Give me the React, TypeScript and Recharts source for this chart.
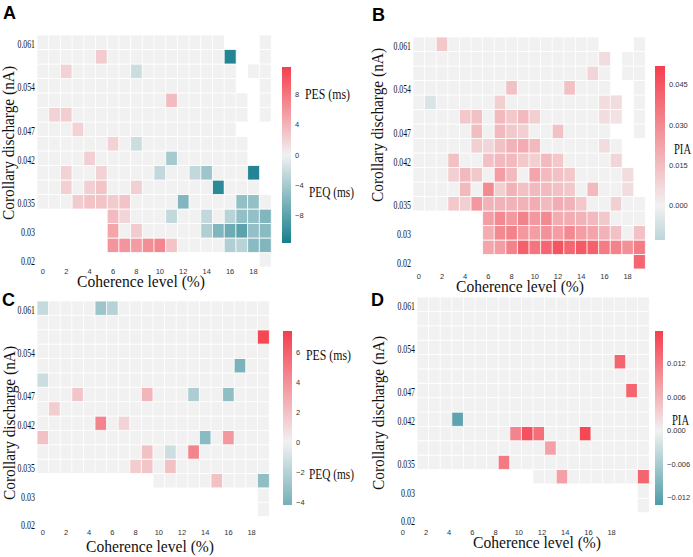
import React from "react";
import { BarChart, Bar, XAxis, YAxis, Cell } from "recharts";

type Grid = (number | null)[][];
const _ = null;

// coherence level columns (%), one cell per column
const COHERENCE = [0, 1, 2, 3, 4, 5, 6, 7, 8, 9, 10, 11, 12, 13, 14, 15, 16, 17, 18, 19];

// corollary discharge labels and the row (from top) they sit on
const CD_LABELS = ["0.061", "0.054", "0.047", "0.042", "0.035", "0.03", "0.02"];
const CD_LABEL_ROWS = [0, 3, 6, 8, 11, 13, 15];

// A: PES / PEQ (ms), rows top -> bottom, null = not simulated
const PES_A: Grid = [
  [0, 0, 0, 0, 0, 0, 0, 0, 0, 0, 0, 0, 0, 0, 0, 0, _, _, _, 0],
  [0, 0, 0, 0, 0, 2.5, 0, 0, 0, 0, 0, 0, 0, 0, 0, 0, -11, _, _, 0],
  [0, 0, 2, 0, 0, 0, 0, 0, -2, 0, 0, 0, 0, 0, 0, 0, 0, _, 0, 0],
  [0, 0, 0, 0, 0, 0, 0, 0, 0, 0, 0, 0, 0, 0, 0, 0, 0, _, _, 0],
  [0, 0, 0, 0, 0, 0, 0, 0, 0, 0, 0, 3.5, 0, 0, 0, 0, 0, 0, _, 0],
  [0, 2, 2.3, 0, 0, 0, 0, 0, 0, 0, 0, 0, 0, 0, 0, 0, 0, 0, _, 0],
  [0, 0, 0, 2, 0, 0, 0, 0, 0, 0, 0, 0, 0, 0, 0, 0, 0, _, _, _],
  [0, 0, 0, 0, 0, 0, 2, 0, -2, 0, 0, 0, 0, 0, 0, 0, 0, 0, _, _],
  [0, 0, 0, 0, 2.2, 0, 0, 0, 0, 0, 0, -4, 0, 0, 0, 0, 0, 0, _, _],
  [0, 0, 2, 0, 0, 2, 0, 0, 0, 0, -2.5, 0, 0, -2.5, -4.5, 0, 0, 0, -11, _],
  [0, 0, 2.2, 0, 2.2, 3, 0, 0, 2.2, 0, 0, 0, 0, 0, 0, -10.5, 0, 0, 0, _],
  [0, 0, 0, 2.5, 3, 3, 2.5, 3, 0, 0, 0, 0, -6, 0, 0, 0, 0, -5, -5, 0],
  [_, _, _, _, _, _, 3.5, 1.8, 0, 0, 0, -2.5, 0, 0, -2.5, 0, -3, -5, -5, -6],
  [_, _, _, _, _, _, 5, 0, 2.5, 0, 0, 0, 0, 0, -3.5, -6, -7, -8, -5, -5.5],
  [_, _, _, _, _, _, 6, 6, 5.5, 6.5, 7, 3, 0, 0, 0, 0, -3.5, -3, -5.5, -6],
  [_, _, _, _, _, _, _, _, _, _, _, _, _, _, _, _, _, _, _, 0],
];

// B: PIA
const PIA_B: Grid = [
  [0, 0, 0.012, 0, 0, 0, 0, 0, 0, 0, 0, 0, 0, 0, 0, 0, _, _, _, 0],
  [0, 0, 0, 0, 0, 0, 0, 0, 0, 0, 0, 0, 0, 0, 0, 0, 0.006, _, 0, 0],
  [0, 0, 0, 0, 0, 0, 0, 0, 0, 0, 0, 0, 0, 0, 0, 0.008, 0, _, 0, 0],
  [0, 0, 0, 0, 0, 0, 0, 0, 0.014, 0, 0, 0, 0, 0.014, 0, 0, 0, _, _, 0],
  [0, -0.006, 0, 0, 0, 0, 0, 0.01, 0, 0, 0, 0, 0, 0, 0, 0, 0.006, 0.006, _, 0],
  [0, 0, 0, 0, 0.012, 0.014, 0, 0.016, 0.012, 0.016, 0.01, 0, 0, 0, 0, 0, 0.006, 0.004, _, 0],
  [0, 0, 0, 0, 0, 0.015, 0, 0.016, 0.012, 0.01, 0, 0, 0.014, 0, 0, 0, 0, _, _, 0],
  [0, 0, 0, 0, 0, 0.01, 0.008, 0.014, 0.018, 0.02, 0.016, 0, 0, 0, 0, 0, 0.006, 0, _, _],
  [0, 0, 0, 0.014, 0, 0, 0.014, 0.016, 0.016, 0.012, 0.01, 0.016, 0.012, 0, 0, 0, 0, 0.008, _, _],
  [0, 0, 0, 0.01, 0.016, 0.012, 0, 0.024, 0.016, 0, 0.022, 0.016, 0.014, 0.012, 0, 0, 0, 0, 0.006, _],
  [0, 0, 0, 0, 0.016, 0, 0.03, 0.01, 0.018, 0.014, 0.016, 0.016, 0.014, 0.012, 0, 0.016, 0, 0, 0.006, _],
  [0, 0, 0, 0.012, 0.01, 0.026, 0.018, 0.018, 0.018, 0.018, 0.02, 0.016, 0.02, 0.018, 0.012, 0, 0, 0.01, 0, 0],
  [_, _, _, _, _, _, 0.024, 0.03, 0.026, 0.032, 0.026, 0.03, 0.02, 0.02, 0.018, 0.016, 0.012, 0, 0, 0],
  [_, _, _, _, _, _, 0.02, 0.03, 0.032, 0.026, 0.024, 0.028, 0.024, 0.03, 0.024, 0.022, 0.018, 0.014, 0, 0.014],
  [_, _, _, _, _, _, 0.022, 0.024, 0.032, 0.042, 0.036, 0.04, 0.046, 0.04, 0.044, 0.042, 0.034, 0.032, 0.028, 0.034],
  [_, _, _, _, _, _, _, _, _, _, _, _, _, _, _, _, _, _, _, 0.04],
];

// C: PES / PEQ (ms)
const PES_C: Grid = [
  [-1.5, 0, 0, 0, 0, -2.8, -2, 0, 0, 0, 0, 0, 0, 0, 0, 0, 0, 0, 0, 0],
  [0, 0, 0, 0, 0, 0, 0, 0, 0, 0, 0, 0, 0, 0, 0, 0, 0, 0, 0, 0],
  [0, 0, 0, 0, 0, 0, 0, 0, 0, 0, 0, 0, 0, 0, 0, 0, 0, 0, 0, 7],
  [0, 0, 0, 0, 0, 0, 0, 0, 0, 0, 0, 0, 0, 0, 0, 0, 0, 0, 0, 0],
  [0, 0, 0, 0, 0, 0, 0, 0, 0, 0, 0, 0, 0, 0, 0, 0, 0, -4, 0, 0],
  [-1.3, 0, 0, 0, 0, 0, 0, 0, 0, 0, 0, 0, 0, 0, 0, 0, 0, 0, 0, 0],
  [0, 0, 0, 1.8, 0, 0, 0, 0, 0, 2.5, 0, 0, 0, -2.3, 0, 0, -3.3, 0, 0, 0],
  [0, 1.5, 0, 0, 0, 0, 0, 0, 0, 0, 0, 0, 0, 0, 0, 0, 0, 0, 0, 0],
  [0, 0, 0, 0, 0, 4.5, 0, 1.2, 0, 0, 0, 0, 0, 0, 0, 0, 0, 0, 0, 0],
  [2, 0, 0, 0, 0, 0, 0, 0, 0, 0, 0, 0, 0, 0, -3.5, 0, 3.7, 0, 0, 0],
  [0, 0, 0, 0, 0, 0, 0, 0, 0, 2, 0, -1.2, 0, 4.5, 0, 0, 0, 0, 0, 0],
  [0, 0, 0, 0, 0, 0, 0, 0, 1.5, 1.8, 0, 2, 0, 0, 0, 0, 0, 0, 0, 0],
  [_, _, _, _, _, _, _, _, _, _, 0, 0, 0, 0, 0, 2, 0, 0, 0, -3.3],
  [_, _, _, _, _, _, _, _, _, _, _, _, _, _, _, _, _, _, _, 0],
  [_, _, _, _, _, _, _, _, _, _, _, _, _, _, _, _, _, _, _, 0],
  [_, _, _, _, _, _, _, _, _, _, _, _, _, _, _, _, _, _, _, _],
];

// D: PIA
const PIA_D: Grid = [
  [0, 0, 0, 0, 0, 0, 0, 0, 0, 0, 0, 0, 0, 0, 0, 0, 0, 0, 0, 0],
  [0, 0, 0, 0, 0, 0, 0, 0, 0, 0, 0, 0, 0, 0, 0, 0, 0, 0, 0, 0],
  [0, 0, 0, 0, 0, 0, 0, 0, 0, 0, 0, 0, 0, 0, 0, 0, 0, 0, 0, 0],
  [0, 0, 0, 0, 0, 0, 0, 0, 0, 0, 0, 0, 0, 0, 0, 0, 0, 0, 0, 0],
  [0, 0, 0, 0, 0, 0, 0, 0, 0, 0, 0, 0, 0, 0, 0, 0, 0, 0.014, 0, 0],
  [0, 0, 0, 0, 0, 0, 0, 0, 0, 0, 0, 0, 0, 0, 0, 0, 0, 0, 0, 0],
  [0, 0, 0, 0, 0, 0, 0, 0, 0, 0, 0, 0, 0, 0, 0, 0, 0, 0, 0.014, 0],
  [0, 0, 0, 0, 0, 0, 0, 0, 0, 0, 0, 0, 0, 0, 0, 0, 0, 0, 0, 0],
  [0, 0, 0, -0.012, 0, 0, 0, 0, 0, 0, 0, 0, 0, 0, 0, 0, 0, 0, 0, 0],
  [0, 0, 0, 0, 0, 0, 0, 0, 0.011, 0.016, 0.013, 0, 0, 0, 0.017, 0, 0, 0, 0, 0],
  [0, 0, 0, 0, 0, 0, 0, 0, 0, 0, 0, 0.008, 0, 0, 0, 0, 0, 0, 0, 0],
  [0, 0, 0, 0, 0, 0, 0, 0.012, 0, 0, 0, 0, 0, 0, 0, 0, 0, 0, 0, 0],
  [_, _, _, _, _, _, _, _, _, _, 0, 0, 0.008, 0, 0, 0, 0, 0, 0, 0.014],
  [_, _, _, _, _, _, _, _, _, _, _, _, _, _, _, _, _, _, _, 0],
  [_, _, _, _, _, _, _, _, _, _, _, _, _, _, _, _, _, _, _, 0],
  [_, _, _, _, _, _, _, _, _, _, _, _, _, _, _, _, _, _, _, _],
];

// colour bar ticks
const TICKS_A = [-8, -4, 0, 4, 8];
const TICKS_B = [0, 0.015, 0.03, 0.045];
const TICKS_C = [-4, -2, 0, 2, 4, 6];
const TICKS_D = [-0.012, -0.006, 0, 0.006, 0.012];

const SERIF = "'Liberation Serif', 'Times New Roman', serif";
const SANS = "'Liberation Sans', Arial, sans-serif";

const NEG = [22, 126, 141];
const MID = [241, 241, 241];
const POS = [245, 62, 76];

function cmap(t: number) {
  const k = Math.max(-1, Math.min(1, t));
  const end = k < 0 ? NEG : POS;
  const a = Math.abs(k);
  const c = MID.map((m, i) => Math.round(m + (end[i] - m) * a));
  return `rgb(${c[0]},${c[1]},${c[2]})`;
}

interface HeatmapProps {
  grid: Grid;
  vmax: number;
  x: number;
  y: number;
  w: number;
  h: number;
  tickDy: number;
  tickDx?: number;
}

function Heatmap({ grid, vmax, x, y, w, h, tickDy, tickDx = 0 }: HeatmapProps) {
  const n = grid.length;
  const data = COHERENCE.map((c) => {
    const d: Record<string, number> = { col: c };
    grid.forEach((_row, k) => (d["r" + k] = 1));
    return d;
  });
  const yTicks = CD_LABEL_ROWS.map((r) => n - r - 0.5);

  return (
    <div style={{ position: "absolute", left: x - 40, top: y - 10 }}>
      <BarChart
        width={w + 42}
        height={h + 30}
        data={data}
        margin={{ top: 10, right: 2, bottom: 0, left: 0 }}
        barCategoryGap={0}
      >
        <XAxis
          dataKey="col"
          interval={1}
          height={20}
          axisLine={false}
          tickLine={false}
          tickSize={0}
          tickMargin={0}
          tick={(p: any) => (
            <text
              x={p.x + tickDx}
              y={p.y + tickDy}
              textAnchor="middle"
              dominantBaseline="central"
              fontSize={7.5}
              fontFamily={SANS}
              fill="#333"
            >
              {p.payload.value}
            </text>
          )}
        />
        <YAxis
          type="number"
          domain={[0, n]}
          ticks={yTicks}
          interval={0}
          width={40}
          axisLine={false}
          tickLine={false}
          tickSize={0}
          tickMargin={0}
          tick={(p: any) => {
            const label = CD_LABELS[yTicks.indexOf(p.payload.value)] ?? "";
            return (
              <text
                x={p.x - 2}
                y={p.y + 1}
                textAnchor="end"
                dominantBaseline="central"
                fontSize={13}
                fontFamily={SERIF}
                fill="#111"
                textLength={label.length > 4 ? 17.5 : 14}
                lengthAdjust="spacingAndGlyphs"
              >
                {label}
              </text>
            );
          }}
        />
        {grid.map((_row, k) => {
          const row = grid[n - 1 - k];
          return (
            <Bar key={k} dataKey={"r" + k} stackId="cells" isAnimationActive={false}>
              {row.map((v, ci) => (
                <Cell
                  key={ci}
                  fill={v === null ? "none" : cmap(v / vmax)}
                  stroke={v === null ? "none" : "#ffffff"}
                  strokeWidth={0.8}
                />
              ))}
            </Bar>
          );
        })}
      </BarChart>
    </div>
  );
}

interface ColorBarProps {
  id: string;
  x: number;
  y: number;
  w: number;
  h: number;
  lo: number;
  hi: number;
  vmax: number;
  ticks: number[];
  digits: number;
  notes?: Record<string, { text: string; dx: number; dy: number }>;
}

function ColorBar({ id, x, y, w, h, lo, hi, vmax, ticks, digits, notes = {} }: ColorBarProps) {
  const zero = hi / (hi - lo);
  const offsets = [0, 0.1, 0.2, 0.3, 0.4, 0.5, 0.6, 0.7, 0.8, 0.9, 1, zero].sort((a, b) => a - b);
  const fmt = (v: number) => (v < 0 ? "\u2212" : "") + Math.abs(v).toFixed(digits);

  return (
    <div style={{ position: "absolute", left: x, top: y - 10 }}>
      <BarChart
        width={w + 80}
        height={h + 20}
        data={[{ name: "bar", span: [lo, hi] }]}
        margin={{ top: 10, right: 0, bottom: 10, left: 0 }}
        barCategoryGap={0}
      >
        <defs>
          <linearGradient id={id} x1="0" y1="0" x2="0" y2="1">
            {offsets.map((o, i) => (
              <stop key={i} offset={o} stopColor={cmap((hi - o * (hi - lo)) / vmax)} />
            ))}
          </linearGradient>
        </defs>
        <XAxis dataKey="name" hide />
        <YAxis
          orientation="right"
          type="number"
          domain={[lo, hi]}
          ticks={ticks}
          interval={0}
          width={80}
          axisLine={false}
          tickLine={false}
          tickSize={0}
          tickMargin={0}
          allowDataOverflow
          tick={(p: any) => {
            const note = notes[String(p.payload.value)];
            return (
              <g>
                <text
                  x={p.x + 4}
                  y={p.y}
                  dominantBaseline="central"
                  fontSize={7.5}
                  fontFamily={SANS}
                  fill="#333"
                >
                  {fmt(p.payload.value)}
                </text>
                {note && (
                  <text
                    x={p.x + note.dx}
                    y={p.y + note.dy}
                    dominantBaseline="central"
                    fontSize={14}
                    fontFamily={SERIF}
                    fill="#111"
                    textLength={45}
                    lengthAdjust="spacingAndGlyphs"
                  >
                    {note.text}
                  </text>
                )}
              </g>
            );
          }}
        />
        <Bar dataKey="span" fill={`url(#${id})`} isAnimationActive={false} />
      </BarChart>
    </div>
  );
}

const yTitle = "Corollary discharge (nA)";
const xTitle = "Coherence level (%)";

function Overlay() {
  const letter = { fontFamily: SANS, fontWeight: 700, fontSize: 18, fill: "#000" };
  const title = { fontFamily: SERIF, fontSize: 16, fill: "#111" };
  const yt = (x: number, y: number) => (
    <text
      transform={`translate(${x},${y}) rotate(-90)`}
      textAnchor="middle"
      textLength={154}
      lengthAdjust="spacingAndGlyphs"
      {...title}
    >
      {yTitle}
    </text>
  );
  const xt = (x: number, y: number) => (
    <text x={x} y={y} textAnchor="middle" textLength={128} lengthAdjust="spacingAndGlyphs" {...title}>
      {xTitle}
    </text>
  );
  return (
    <svg
      width={693}
      height={557}
      style={{ position: "absolute", left: 0, top: 0, pointerEvents: "none" }}
    >
      <text x={3} y={19} {...letter}>A</text>
      <text x={372} y={21} {...letter}>B</text>
      <text x={2} y={306} {...letter}>C</text>
      <text x={371} y={306} {...letter}>D</text>
      {yt(13.5, 143)}
      {yt(383, 125)}
      {yt(15, 423)}
      {yt(384, 413)}
      {xt(141, 287)}
      {xt(520, 292)}
      {xt(150, 552)}
      {xt(537, 548)}
      <text x={674} y={154} textLength={17} lengthAdjust="spacingAndGlyphs" {...title} fontSize={14}>PIA</text>
      <text x={672} y={425} textLength={17} lengthAdjust="spacingAndGlyphs" {...title} fontSize={14}>PIA</text>
    </svg>
  );
}

export default function App() {
  return (
    <div style={{ position: "relative", width: 693, height: 557, background: "#fff", overflow: "hidden" }}>
      <style>{"body{margin:0}"}</style>
      <Heatmap grid={PES_A} vmax={11.7} x={37} y={35} w={234} h={232} tickDy={4} />
      <Heatmap grid={PIA_B} vmax={0.052} x={413} y={37} w={232} h={232} tickDy={7} />
      <Heatmap grid={PES_C} vmax={7.4} x={37} y={301} w={232} h={230} tickDy={1} />
      <Heatmap grid={PIA_D} vmax={0.0179} x={417} y={297} w={232} h={230} tickDy={5} tickDx={-20} />
      <ColorBar
        id="cbA" x={282} y={67} w={9} h={176} lo={-11.7} hi={11.7} vmax={11.7}
        ticks={TICKS_A} digits={0}
        notes={{ "8": { text: "PES (ms)", dx: 14, dy: 0 }, "-4": { text: "PEQ (ms)", dx: 18, dy: 7 } }}
      />
      <ColorBar id="cbB" x={655} y={66} w={10} h={174} lo={-0.0127} hi={0.052} vmax={0.052} ticks={TICKS_B} digits={3} />
      <ColorBar
        id="cbC" x={283} y={331} w={9} h={174} lo={-4.2} hi={7.4} vmax={7.4}
        ticks={TICKS_C} digits={0}
        notes={{ "6": { text: "PES (ms)", dx: 14, dy: 3 }, "-2": { text: "PEQ (ms)", dx: 17, dy: 2 } }}
      />
      <ColorBar id="cbD" x={655} y={331} w={8} h={174} lo={-0.0133} hi={0.0179} vmax={0.0179} ticks={TICKS_D} digits={3} />
      <Overlay />
    </div>
  );
}
